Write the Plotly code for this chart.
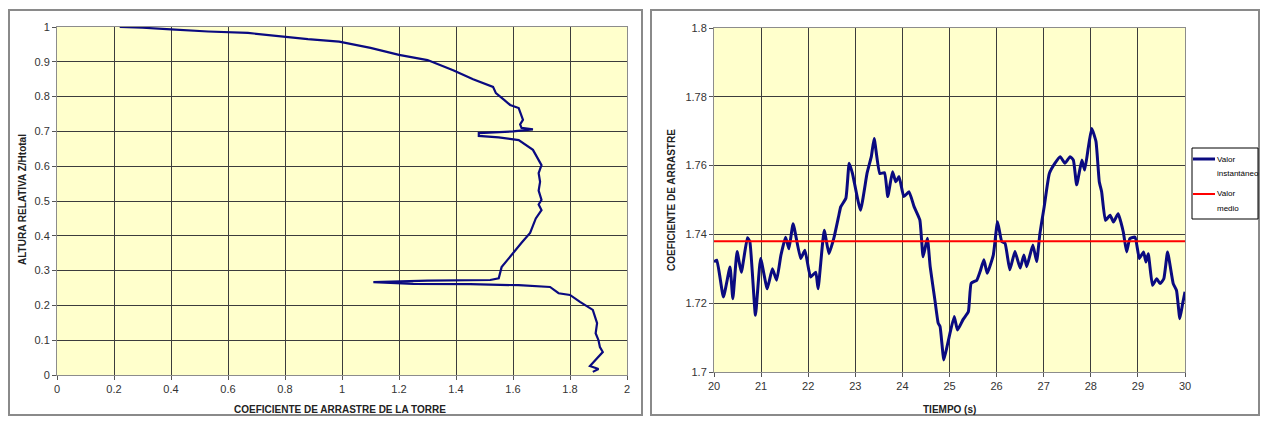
import plotly.graph_objects as go

# ---------------- Data: left chart (drag coefficient profile along tower) ----------------
CD_PROFILE = [0.22, 0.30, 0.40, 0.53, 0.67, 0.81, 0.88, 0.99, 1.10, 1.20,
              1.30, 1.39, 1.46, 1.53, 1.54, 1.57, 1.59, 1.62, 1.63, 1.635,
              1.625, 1.63, 1.67, 1.60, 1.48, 1.48, 1.55, 1.62, 1.67, 1.70,
              1.69, 1.695, 1.69, 1.70, 1.69, 1.70, 1.68, 1.66, 1.63, 1.61,
              1.585, 1.56, 1.55, 1.52, 1.30, 1.11, 1.25, 1.45, 1.62, 1.73,
              1.76, 1.80, 1.835, 1.88, 1.895, 1.89, 1.90, 1.905, 1.915, 1.89,
              1.87, 1.90, 1.88]
Z_PROFILE = [1.0, 0.998, 0.993, 0.987, 0.983, 0.971, 0.965, 0.958, 0.94, 0.92,
             0.905, 0.876, 0.85, 0.828, 0.81, 0.79, 0.776, 0.767, 0.747, 0.733,
             0.72, 0.71, 0.706, 0.70, 0.695, 0.687, 0.683, 0.675, 0.647, 0.603,
             0.58, 0.555, 0.53, 0.503, 0.49, 0.474, 0.45, 0.408, 0.38, 0.36,
             0.335, 0.31, 0.278, 0.273, 0.271, 0.267, 0.262, 0.261, 0.258, 0.253,
             0.235, 0.23, 0.21, 0.187, 0.149, 0.12, 0.10, 0.08, 0.066, 0.043,
             0.026, 0.017, 0.009]

# ---------------- Data: right chart (time history of drag coefficient) ----------------
TIME = [20.0, 20.06, 20.2, 20.34, 20.40, 20.49, 20.58, 20.71, 20.76, 20.88,
        20.99, 21.13, 21.24, 21.33, 21.42, 21.52, 21.59, 21.68, 21.84, 21.93,
        22.05, 22.16, 22.21, 22.34, 22.44, 22.55, 22.65, 22.69, 22.80, 22.87,
        22.94, 23.11, 23.25, 23.34, 23.40, 23.52, 23.62, 23.69, 23.79, 23.86,
        23.93, 24.03, 24.14, 24.25, 24.37, 24.44, 24.53, 24.59, 24.69, 24.76,
        24.80, 24.88, 24.97, 25.10, 25.17, 25.29, 25.40, 25.46, 25.58, 25.65,
        25.73, 25.80, 25.93, 26.02, 26.11, 26.18, 26.28, 26.39, 26.50, 26.58,
        26.64, 26.77, 26.85, 26.92, 27.01, 27.12, 27.24, 27.35, 27.45, 27.56,
        27.63, 27.70, 27.81, 27.87, 27.95, 28.02, 28.11, 28.18, 28.23, 28.31,
        28.41, 28.48, 28.58, 28.69, 28.76, 28.83, 28.94, 29.03, 29.12, 29.17,
        29.22, 29.31, 29.40, 29.47, 29.55, 29.63, 29.75, 29.82, 29.89, 29.95,
        30.0]
CD_TIME = [1.732, 1.7325, 1.7218, 1.7305, 1.7213, 1.735, 1.729, 1.739, 1.738, 1.7165,
           1.733, 1.7242, 1.730, 1.7267, 1.7339, 1.7392, 1.7358, 1.7431, 1.733, 1.7354,
           1.7276, 1.729, 1.7242, 1.7412, 1.7344, 1.7392, 1.7455, 1.748, 1.7505, 1.7607,
           1.7577, 1.747, 1.7578, 1.7626, 1.7679, 1.7577, 1.7579, 1.751, 1.7582, 1.7553,
           1.7568, 1.751, 1.7524, 1.748, 1.7442, 1.7335, 1.7389, 1.7306, 1.7209, 1.7142,
           1.7132, 1.7035, 1.7088, 1.7161, 1.7122, 1.7153, 1.7175, 1.7258, 1.7267, 1.7292,
           1.7326, 1.7287, 1.734, 1.7437, 1.7379, 1.7374, 1.7297, 1.735, 1.7302, 1.734,
           1.7306, 1.7369, 1.7321, 1.7403, 1.748, 1.7577, 1.7607, 1.7626, 1.7607, 1.7626,
           1.7616, 1.7544, 1.7616, 1.7587, 1.7655, 1.7708, 1.767, 1.7553, 1.7524, 1.7441,
           1.7456, 1.7436, 1.746, 1.7407, 1.7349, 1.7388, 1.7392, 1.733, 1.7349, 1.732,
           1.7344, 1.7252, 1.7271, 1.7257, 1.7271, 1.7349, 1.7257, 1.7237, 1.7155, 1.7199,
           1.7233]
MEAN_CD = 1.738

X_TICKS_LEFT = [0, 0.2, 0.4, 0.6, 0.8, 1, 1.2, 1.4, 1.6, 1.8, 2]
X_TICKTEXT_LEFT = ["0", "0.2", "0.4", "0.6", "0.8", "1", "1.2", "1.4", "1.6", "1.8", "2"]
Y_TICKS_LEFT = [0, 0.1, 0.2, 0.3, 0.4, 0.5, 0.6, 0.7, 0.8, 0.9, 1]
Y_TICKTEXT_LEFT = ["0", "0.1", "0.2", "0.3", "0.4", "0.5", "0.6", "0.7", "0.8", "0.9", "1"]
X_TICKS_RIGHT = [20, 21, 22, 23, 24, 25, 26, 27, 28, 29, 30]
Y_TICKS_RIGHT = [1.7, 1.72, 1.74, 1.76, 1.78, 1.8]
Y_TICKTEXT_RIGHT = ["1.7", "1.72", "1.74", "1.76", "1.78", "1.8"]
SERIES_NAMES = ["Valor instantáneo", "Valor medio"]
LEGEND_LINES = [["Valor", "instantáneo"], ["Valor", "medio"]]

# page is 1268x424; default body margin of 8px surrounds the figure
OFF = 8
W, H = 1268 - 2 * OFF, 424 - 2 * OFF
NAVY = "#0a0a80"
RED = "#ff0000"
PLOT_BG = "#ffffcc"
GRID = "#3c3c3c"
FONT = "Liberation Sans, Arial, sans-serif"


def px_x(p):
    return (p - OFF) / W


def px_y(p):
    return 1 - (p - OFF) / H


fig = go.Figure()

fig.add_trace(go.Scatter(x=CD_PROFILE, y=Z_PROFILE, mode="lines",
                         line=dict(color=NAVY, width=2.2),
                         xaxis="x", yaxis="y", showlegend=False, name="Perfil"))

fig.add_trace(go.Scatter(x=TIME, y=CD_TIME, mode="lines",
                         line=dict(color=NAVY, width=3, shape="spline", smoothing=0.4),
                         xaxis="x2", yaxis="y2", name=SERIES_NAMES[0], showlegend=False))
fig.add_trace(go.Scatter(x=[X_TICKS_RIGHT[0], X_TICKS_RIGHT[-1]], y=[MEAN_CD, MEAN_CD],
                         mode="lines", line=dict(color=RED, width=2),
                         xaxis="x2", yaxis="y2", name=SERIES_NAMES[1], showlegend=False))

axis_common = dict(showgrid=True, gridcolor=GRID, gridwidth=1,
                   showline=True, linecolor="#8c8c8c", linewidth=1, mirror=True,
                   ticks="outside", ticklen=4, tickcolor="#555555",
                   tickfont=dict(family=FONT, size=11, color="#333333"),
                   zeroline=False, fixedrange=True, automargin=False)

shapes = [
    dict(type="rect", xref="paper", yref="paper",
         x0=px_x(9), x1=px_x(642), y0=px_y(415), y1=px_y(10),
         line=dict(color="#8a8a8a", width=2), fillcolor="rgba(0,0,0,0)", layer="below"),
    dict(type="rect", xref="paper", yref="paper",
         x0=px_x(651), x1=px_x(1259), y0=px_y(415), y1=px_y(10),
         line=dict(color="#8a8a8a", width=2), fillcolor="rgba(0,0,0,0)", layer="below"),
    # legend box
    dict(type="rect", xref="paper", yref="paper",
         x0=px_x(1192), x1=px_x(1258), y0=px_y(219), y1=px_y(148),
         line=dict(color="#000000", width=1), fillcolor="white", layer="above"),
    dict(type="line", xref="paper", yref="paper",
         x0=px_x(1193), x1=px_x(1215), y0=px_y(159), y1=px_y(159),
         line=dict(color=NAVY, width=3), layer="above"),
    dict(type="line", xref="paper", yref="paper",
         x0=px_x(1193), x1=px_x(1215), y0=px_y(194), y1=px_y(194),
         line=dict(color=RED, width=2), layer="above"),
]

annotations = [
    dict(text="<b>COEFICIENTE DE ARRASTRE DE LA TORRE</b>", xref="paper", yref="paper",
         x=px_x(340), y=px_y(409), showarrow=False, xanchor="center", yanchor="middle",
         font=dict(family=FONT, size=10, color="#222222")),
    dict(text="<b>ALTURA RELATIVA Z/Htotal</b>", xref="paper", yref="paper",
         x=px_x(22), y=px_y(200), showarrow=False, xanchor="center", yanchor="middle",
         textangle=-90, font=dict(family=FONT, size=10, color="#222222")),
    dict(text="<b>TIEMPO (s)</b>", xref="paper", yref="paper",
         x=px_x(950), y=px_y(409), showarrow=False, xanchor="center", yanchor="middle",
         font=dict(family=FONT, size=10, color="#222222")),
    dict(text="<b>COEFICIENTE DE ARRASTRE</b>", xref="paper", yref="paper",
         x=px_x(671), y=px_y(200), showarrow=False, xanchor="center", yanchor="middle",
         textangle=-90, font=dict(family=FONT, size=10, color="#222222")),
]
legend_rows = [(159, 173), (194, 208)]
for (r1, r2), lines in zip(legend_rows, LEGEND_LINES):
    for yy, txt in zip((r1, r2), lines):
        annotations.append(dict(text=txt, xref="paper", yref="paper",
                                x=px_x(1215), y=px_y(yy), showarrow=False,
                                xanchor="left", yanchor="middle",
                                font=dict(family=FONT, size=8, color="#000000")))

fig.update_layout(
    width=W, height=H, autosize=False,
    margin=dict(l=0, r=0, t=0, b=0, pad=0, autoexpand=False),
    paper_bgcolor="white",
    plot_bgcolor=PLOT_BG,
    font=dict(family=FONT, color="#222222"),
    showlegend=False,
    xaxis=dict(domain=[px_x(57), px_x(627)], range=[0, 2], anchor="y",
               tickvals=X_TICKS_LEFT, ticktext=X_TICKTEXT_LEFT, **axis_common),
    yaxis=dict(domain=[px_y(375), px_y(27)], range=[0, 1], anchor="x",
               tickvals=Y_TICKS_LEFT, ticktext=Y_TICKTEXT_LEFT, **axis_common),
    xaxis2=dict(domain=[px_x(714), px_x(1185)], range=[20, 30], anchor="y2",
                tickvals=X_TICKS_RIGHT, **axis_common),
    yaxis2=dict(domain=[px_y(372), px_y(28)], range=[1.7, 1.8], anchor="x2",
                tickvals=Y_TICKS_RIGHT, ticktext=Y_TICKTEXT_RIGHT, **axis_common),
    shapes=shapes,
    annotations=annotations,
)

fig.write_html("out.html", config={"displayModeBar": False})
